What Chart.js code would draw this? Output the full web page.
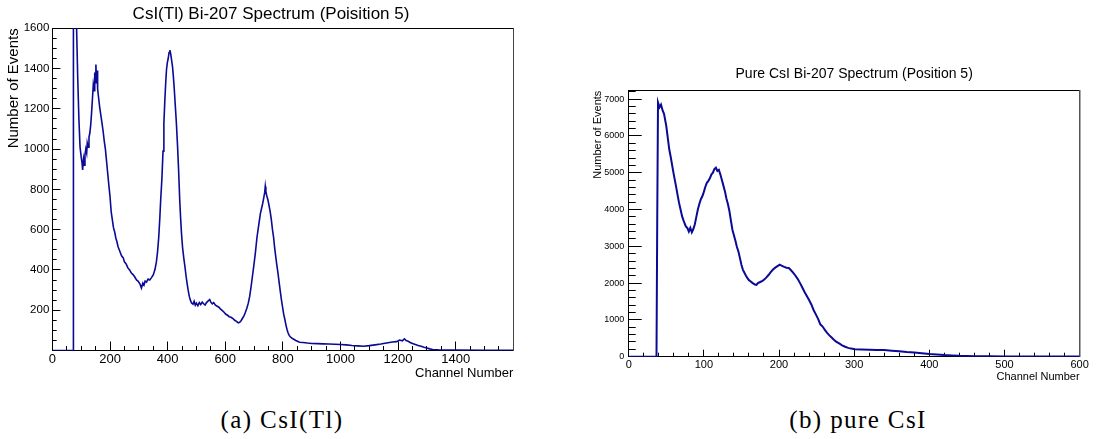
<!DOCTYPE html>
<html>
<head>
<meta charset="utf-8">
<title>Bi-207 Spectra</title>
<script src="https://cdn.jsdelivr.net/npm/chart.js@4.4.1/dist/chart.umd.min.js"></script>
<style>
  body { margin: 0; background: #fff; }
  #page { position: relative; width: 1097px; height: 439px; overflow: hidden; background: #fff; }
  .box { position: absolute; }
  .caption {
    position: absolute; width: 300px; text-align: center;
    font-family: "Liberation Serif", "Times New Roman", serif;
    font-size: 25px; line-height: 25px; letter-spacing: 1.4px; color: #000;
  }
</style>
</head>
<body>
<div id="page">
  <div class="box" style="left:0;top:0;width:542px;height:390px"><canvas id="chartTl"></canvas></div>
  <div class="box" style="left:560px;top:60px;width:537px;height:330px"><canvas id="chartPure"></canvas></div>
  <div class="caption" style="left:132px;top:407px">(a) CsI(Tl)</div>
  <div class="caption" style="left:708px;top:407px">(b) pure CsI</div>
</div>
<script>
// CsI(Tl) spectrum (channel -> events)
const tlChannel = [
  0, 40, 70, 72, 73, 78, 82, 84, 88, 92, 96, 100, 103, 105, 108, 111, 113, 116, 119, 121,
  124, 127, 130, 133, 136, 139, 142, 145, 147, 149, 151, 153, 155, 157, 160, 164, 168, 172, 176, 180,
  184, 188, 192, 196, 200, 204, 208, 212, 216, 220, 224, 228, 232, 236, 240, 246, 250, 256, 262, 268,
  274, 280, 286, 292, 298, 304, 309, 314, 318, 322, 327, 332, 338, 344, 350, 356, 361, 365, 369, 373,
  376, 380, 384, 387, 390, 393, 396, 399, 402, 405, 408, 411, 414, 417, 420, 423, 426, 430, 434, 438,
  442, 445, 448, 452, 456, 460, 464, 468, 471, 475, 479, 483, 488, 492, 496, 500, 505, 510, 515, 520,
  525, 530, 535, 540, 546, 550, 555, 560, 566, 572, 578, 584, 590, 596, 602, 608, 614, 620, 627, 633,
  639, 645, 650, 655, 660, 665, 670, 675, 680, 685, 690, 695, 700, 705, 710, 714, 718, 722, 726, 730,
  734, 737, 739, 741, 744, 748, 752, 756, 760, 764, 768, 771, 775, 779, 783, 787, 791, 795, 799, 803,
  807, 811, 815, 818, 822, 828, 835, 845, 858, 870, 885, 900, 920, 940, 960, 980, 1000, 1020, 1040, 1060,
  1080, 1100, 1120, 1140, 1160, 1180, 1195, 1205, 1215, 1222, 1228, 1235, 1242, 1250, 1260, 1270, 1280, 1290, 1300, 1310,
  1320, 1340, 1400, 1500, 1600,
];
const tlCounts = [
  0, 0, 0, 0, 2400, 2600, 1900, 1600, 1350, 1150, 1010, 960, 930, 897, 950, 920, 970, 1000, 980, 1030,
  1010, 1060, 1080, 1120, 1180, 1250, 1320, 1290, 1380, 1330, 1420, 1340, 1390, 1300, 1260, 1210, 1170, 1130, 1090, 1040,
  1000, 940, 880, 820, 765, 690, 650, 610, 590, 560, 540, 515, 500, 485, 470, 460, 440, 430, 410, 400,
  385, 377, 365, 350, 344, 330, 310, 335, 325, 345, 340, 355, 350, 362, 375, 402, 440, 490, 560, 660,
  750, 850, 990, 1129, 1230, 1320, 1393, 1430, 1450, 1480, 1492, 1470, 1440, 1410, 1360, 1300, 1230, 1140, 1030, 900,
  749, 660, 584, 510, 460, 418, 370, 330, 302, 270, 250, 236, 230, 245, 225, 235, 222, 238, 228, 240,
  232, 226, 238, 245, 253, 240, 232, 238, 225, 220, 215, 205, 198, 190, 180, 175, 168, 165, 158, 150,
  145, 137, 140, 148, 160, 172, 190, 210, 235, 270, 320, 375, 430, 490, 560, 600, 640, 680, 705, 730,
  760, 785, 815, 790, 770, 749, 720, 690, 650, 600, 560, 517, 470, 425, 385, 340, 295, 253, 215, 180,
  154, 125, 102, 88, 75, 65, 58, 50, 41, 40, 37, 35, 34, 33, 32, 31, 30, 28, 25, 23,
  21, 24, 28, 32, 37, 42, 44, 52, 48, 58, 49, 46, 40, 35, 30, 25, 21, 16, 12, 8,
  5, 3, 2, 1, 1,
];

// pure CsI spectrum (channel -> events)
const pureChannel = [
  0, 20, 36, 37, 38, 39, 41, 43, 45, 47, 50, 52, 54, 56, 58, 60, 63, 65, 67, 69,
  71, 73, 76, 78, 80, 82, 84, 86, 88, 90, 92, 94, 96, 98, 100, 102, 104, 106, 108, 110,
  112, 114, 116, 118, 120, 122, 124, 126, 128, 130, 132, 134, 136, 138, 140, 142, 144, 146, 148, 150,
  152, 154, 156, 158, 160, 162, 165, 168, 170, 172, 175, 178, 180, 183, 186, 189, 192, 195, 198, 201,
  204, 207, 210, 213, 216, 219, 222, 225, 228, 231, 234, 237, 240, 243, 246, 249, 252, 255, 258, 261,
  264, 267, 270, 273, 276, 280, 284, 288, 292, 296, 301, 310, 320, 330, 340, 350, 360, 370, 380, 390,
  400, 410, 420, 430, 440, 450, 460, 480, 500, 550, 600,
];
const pureCounts = [
  0, 0, 0, 0, 3865, 6910, 6780, 6850, 6700, 6600, 6270, 5950, 5630, 5420, 5180, 4950, 4630, 4400, 4180, 4000,
  3820, 3700, 3540, 3500, 3400, 3500, 3380, 3470, 3600, 3800, 4000, 4150, 4280, 4360, 4480, 4620, 4725, 4780, 4850, 4950,
  5000, 5100, 5137, 5050, 5080, 4950, 4800, 4650, 4500, 4300, 4150, 3960, 3700, 3450, 3300, 3150, 2980, 2860, 2680, 2500,
  2360, 2280, 2200, 2135, 2080, 2050, 2000, 1960, 1950, 2000, 2030, 2060, 2090, 2150, 2220, 2300, 2370, 2420, 2460, 2500,
  2470, 2440, 2420, 2410, 2350, 2280, 2200, 2110, 2000, 1880, 1760, 1650, 1540, 1420, 1270, 1150, 1030, 880, 820, 730,
  650, 580, 520, 460, 410, 360, 310, 270, 240, 220, 200, 195, 190, 185, 180, 165, 150, 130, 115, 95,
  75, 60, 45, 35, 25, 20, 15, 10, 6, 4, 3,
];

// y tick labels of the pure CsI plot (axis runs a bit past 7000)
const pureYTicks = [0, 1000, 2000, 3000, 4000, 5000, 6000, 7000];

const lineColor = "#0a0a96";
const sans = "'Liberation Sans', Arial, Helvetica, sans-serif";

function pairs(xs, ys) {
  return xs.map(function (x, i) { return { x: x, y: ys[i] }; });
}

// fix the size an axis box takes in the layout
function fixed(size, prop) {
  return function (scale) { scale[prop] = size; };
}

// minor tick positions every `step` up to `upTo`
function every(step, upTo) {
  const t = [];
  for (let v = 0; v <= upTo; v += step) t.push({ value: v });
  return t;
}

function plain(v) { return v; }

// left: CsI(Tl)
new Chart(document.getElementById("chartTl"), {
  type: "line",
  data: {
    datasets: [{
      data: pairs(tlChannel, tlCounts),
      borderColor: lineColor,
      borderWidth: 1.6,
      pointRadius: 0,
      tension: 0,
    }],
  },
  options: {
    responsive: true,
    maintainAspectRatio: false,
    animation: false,
    devicePixelRatio: 1,
    layout: { padding: 0 },
    plugins: {
      legend: { display: false },
      tooltip: { enabled: false },
      title: {
        display: true,
        text: "CsI(Tl) Bi-207 Spectrum (Poisition 5)",
        color: "#000",
        font: { family: sans, size: 17, weight: "normal" },
        padding: { top: 4, bottom: 3.9 },
      },
    },
    scales: {
      x: {
        type: "linear", position: "bottom", weight: 1, min: 0, max: 1600,
        ticks: {
          stepSize: 200, autoSkip: false, maxRotation: 0, padding: 10.2, color: "#000",
          font: { family: sans, size: 13 },
          callback: function (v) { return v === 1600 ? "" : v; },
        },
        grid: { drawOnChartArea: false, tickLength: -9, tickColor: "#000" },
        border: { color: "#000", width: 1 },
        title: {
          display: true, text: "Channel Number", align: "end", color: "#000",
          font: { family: sans, size: 13 }, padding: { top: 0, bottom: 8.9 },
        },
        afterFit: fixed(39.5, "height"),
      },
      xMinor: {
        type: "linear", position: "bottom", weight: 0, min: 0, max: 1600,
        ticks: { display: false, stepSize: 50 },
        grid: { drawOnChartArea: false, tickLength: -4.5, tickColor: "#000" },
        border: { display: false },
        afterFit: fixed(0, "height"),
      },
      xTop: {
        type: "linear", position: "top", min: 0, max: 1600,
        ticks: { display: false },
        grid: { display: false },
        border: { color: "#000", width: 1 },
        afterFit: fixed(0, "height"),
      },
      y: {
        type: "linear", position: "left", weight: 1, min: 0, max: 1600,
        ticks: {
          stepSize: 200, padding: 11.1, color: "#000",
          font: { family: sans, size: 11.5 },
          callback: function (v) { return v === 0 ? "" : v; },
        },
        grid: { drawOnChartArea: false, tickLength: -8, tickColor: "#000" },
        border: { color: "#000", width: 1 },
        title: {
          display: true, text: "Number of Events", align: "end", color: "#000",
          font: { family: sans, size: 15 }, padding: { top: 5, bottom: 0 },
        },
        afterFit: fixed(52.4, "width"),
      },
      yMinor: {
        type: "linear", position: "left", weight: 0, min: 0, max: 1600,
        ticks: { display: false, stepSize: 50 },
        grid: { drawOnChartArea: false, tickLength: -4.3, tickColor: "#000" },
        border: { display: false },
        afterFit: fixed(0, "width"),
      },
      yRight: {
        type: "linear", position: "right", min: 0, max: 1600,
        ticks: { display: false },
        grid: { display: false },
        border: { color: "#444", width: 1 },
        afterFit: fixed(28.7, "width"),
      },
    },
  },
});

// right: pure CsI
new Chart(document.getElementById("chartPure"), {
  type: "line",
  data: {
    datasets: [{
      data: pairs(pureChannel, pureCounts),
      borderColor: lineColor,
      borderWidth: 2,
      pointRadius: 0,
      tension: 0,
    }],
  },
  options: {
    responsive: true,
    maintainAspectRatio: false,
    animation: false,
    devicePixelRatio: 1,
    layout: { padding: { left: 0, right: 8.3, top: 0, bottom: 0 } },
    plugins: {
      legend: { display: false },
      tooltip: { enabled: false },
      title: {
        display: true,
        fullSize: false,
        text: "Pure CsI Bi-207 Spectrum (Position 5)",
        color: "#000",
        font: { family: sans, size: 14, weight: "normal" },
        padding: { top: 5.9, bottom: 8 },
      },
    },
    scales: {
      x: {
        type: "linear", position: "bottom", weight: 1, min: 0, max: 600,
        ticks: {
          stepSize: 100, autoSkip: false, maxRotation: 0, padding: 8.2, color: "#000",
          font: { family: sans, size: 11 },
          callback: plain,
        },
        grid: { drawOnChartArea: false, tickLength: -7, tickColor: "#000" },
        border: { color: "#000", width: 1 },
        title: {
          display: true, text: "Channel Number", align: "end", color: "#000",
          font: { family: sans, size: 11 }, padding: { top: 0, bottom: 6.7 },
        },
        afterFit: fixed(33.3, "height"),
      },
      xMinor: {
        type: "linear", position: "bottom", weight: 0, min: 0, max: 600,
        ticks: { display: false, stepSize: 20 },
        grid: { drawOnChartArea: false, tickLength: -4, tickColor: "#000" },
        border: { display: false },
        afterFit: fixed(0, "height"),
      },
      xTop: {
        type: "linear", position: "top", min: 0, max: 600,
        ticks: { display: false },
        grid: { display: false },
        border: { color: "#000", width: 1 },
        afterFit: fixed(0, "height"),
      },
      y: {
        type: "linear", position: "left", weight: 1, min: 0, max: 7230,
        afterBuildTicks: function (scale) {
          scale.ticks = pureYTicks.map(function (v) { return { value: v }; });
        },
        ticks: {
          padding: 17.4, color: "#000",
          font: { family: sans, size: 9 },
          callback: plain,
        },
        grid: { drawOnChartArea: false, tickLength: -13, tickColor: "#000" },
        border: { color: "#000", width: 1 },
        title: {
          display: true, text: "Number of Events", align: "end", color: "#000",
          font: { family: sans, size: 11 }, padding: { top: 31.1, bottom: 0 },
        },
        afterFit: fixed(68.7, "width"),
      },
      yMinor: {
        type: "linear", position: "left", weight: 0, min: 0, max: 7230,
        afterBuildTicks: function (scale) { scale.ticks = every(200, 7230); },
        ticks: { display: false },
        grid: { drawOnChartArea: false, tickLength: -7, tickColor: "#000" },
        border: { display: false },
        afterFit: fixed(0, "width"),
      },
      yRight: {
        type: "linear", position: "right", min: 0, max: 7230,
        ticks: { display: false },
        grid: { display: false },
        border: { color: "#555", width: 1.5 },
        afterFit: fixed(0, "width"),
      },
    },
  },
});
</script>
</body>
</html>
